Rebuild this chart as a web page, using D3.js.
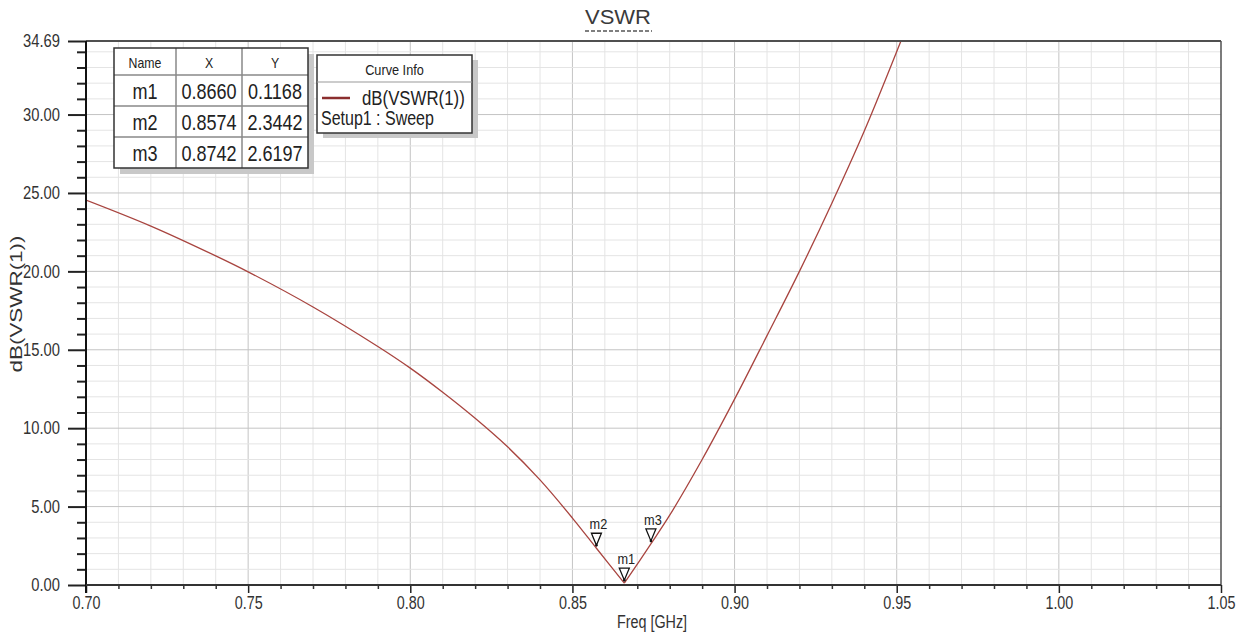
<!DOCTYPE html>
<html>
<head>
<meta charset="utf-8">
<script src="https://cdn.jsdelivr.net/npm/d3@7"></script>
<style>
  html, body { margin: 0; padding: 0; background: #fff; }
  svg { display: block; }
  text { font-family: "Liberation Sans", Arial, sans-serif; }
</style>
</head>
<body>
<svg id="chart" width="1245" height="637"></svg>
<script>
// ---- data ----
const freq = [0.70, 0.72, 0.74, 0.75, 0.77, 0.79, 0.80, 0.81, 0.82, 0.83, 0.84, 0.85, 0.8574, 0.866, 0.8742, 0.88, 0.89, 0.90, 0.91, 0.92, 0.93, 0.94, 0.9513];
const vswrDb = [24.55, 22.89, 20.99, 19.97, 17.73, 15.21, 13.83, 12.29, 10.63, 8.81, 6.70, 4.27, 2.3442, 0.1168, 2.6197, 4.45, 8.0, 11.85, 15.9, 20.0, 24.35, 28.95, 34.69];
const markerNames = ["m1", "m2", "m3"];
const markerX = [0.8660, 0.8574, 0.8742];
const markerY = [0.1168, 2.3442, 2.6197];
const xTicks = [0.70, 0.75, 0.80, 0.85, 0.90, 0.95, 1.00, 1.05];
const yTicks = [0, 5, 10, 15, 20, 25, 30, 34.69];
const title = "VSWR";
const xLabel = "Freq [GHz]";
const yLabel = "dB(VSWR(1))";
const legendTitle = "Curve Info";
const legendSeries = "dB(VSWR(1))";
const legendSetup = "Setup1 : Sweep";
const tableHeader = ["Name", "X", "Y"];

// ---- layout ----
const L = 86, R = 1221, T = 41, B = 585;
const svg = d3.select("#chart");
const x = d3.scaleLinear().domain([0.70, 1.05]).range([L, R]);
const y = d3.scaleLinear().domain([0, 34.69]).range([B, T]);
const fmt = d3.format(".2f");

// grid
const xMinor = d3.range(71, 105).map(d => d / 100);
const yMinor = d3.range(1, 35);
const grid = svg.append("g");
grid.selectAll(".vx").data(xMinor).join("line")
  .attr("x1", d => x(d)).attr("x2", d => x(d)).attr("y1", T).attr("y2", B)
  .attr("stroke", d => (Math.round(d * 100) % 5 === 0) ? "#c4c4c4" : "#e4e4e4").attr("stroke-width", 1);
grid.selectAll(".hy").data(yMinor).join("line")
  .attr("x1", L).attr("x2", R).attr("y1", d => y(d)).attr("y2", d => y(d))
  .attr("stroke", d => (d % 5 === 0) ? "#c4c4c4" : "#e4e4e4").attr("stroke-width", 1);

// curve (two smooth branches meeting at the sharp minimum)
svg.append("clipPath").attr("id", "clip").append("rect")
  .attr("x", L).attr("y", T - 1).attr("width", R - L).attr("height", B - T + 1);
const pts = freq.map((f, i) => [f, vswrDb[i]]);
const minIdx = d3.minIndex(vswrDb);
const lineGen = d3.line().x(d => x(d[0])).y(d => y(d[1])).curve(d3.curveCatmullRom.alpha(0.5));
[pts.slice(0, minIdx + 1), pts.slice(minIdx)].forEach(seg => {
  svg.append("path").datum(seg)
    .attr("clip-path", "url(#clip)")
    .attr("fill", "none").attr("stroke", "#a8443f").attr("stroke-width", 1.3)
    .attr("d", lineGen);
});

// borders
svg.append("line").attr("x1", L).attr("x2", R).attr("y1", T).attr("y2", T).attr("stroke", "#505050").attr("stroke-width", 2);
svg.append("line").attr("x1", R).attr("x2", R).attr("y1", T).attr("y2", B).attr("stroke", "#505050").attr("stroke-width", 1.5);

// y axis
const yAxisG = svg.append("g").attr("transform", `translate(${L},0)`);
yAxisG.call(d3.axisLeft(y).tickValues(yMinor.filter(d => d % 5 !== 0)).tickSize(9).tickFormat(""));
const yMaj = svg.append("g").attr("transform", `translate(${L},0)`)
  .call(d3.axisLeft(y).tickValues(yTicks).tickSize(18).tickPadding(8).tickFormat(fmt));
svg.selectAll(".domain").remove();
yAxisG.selectAll("line").attr("stroke", "#222").attr("stroke-width", 2);
yMaj.selectAll("line").attr("stroke", "#222").attr("stroke-width", 2);
yMaj.selectAll("text").attr("font-size", 18).attr("fill", "#333");

// x axis
const xMinG = svg.append("g").attr("transform", `translate(0,${B})`)
  .call(d3.axisBottom(x).tickValues(xMinor.filter(d => Math.round(d * 100) % 5 !== 0)).tickSize(4).tickFormat(""));
const xMaj = svg.append("g").attr("transform", `translate(0,${B})`)
  .call(d3.axisBottom(x).tickValues(xTicks).tickSize(8).tickPadding(4).tickFormat(fmt));
xMinG.select(".domain").remove(); xMaj.select(".domain").remove();
xMinG.selectAll("line").attr("stroke", "#333").attr("stroke-width", 1.5);
xMaj.selectAll("line").attr("stroke", "#222").attr("stroke-width", 1.5);
xMaj.selectAll("text").attr("font-size", 17.5).attr("fill", "#333");

svg.append("line").attr("x1", L).attr("x2", L).attr("y1", T).attr("y2", B + 8).attr("stroke", "#111").attr("stroke-width", 2);
svg.append("line").attr("x1", L).attr("x2", R).attr("y1", B).attr("y2", B).attr("stroke", "#333").attr("stroke-width", 2);

// labels
svg.append("text").attr("x", 618).attr("y", 24).attr("text-anchor", "middle")
  .attr("font-size", 20).attr("fill", "#3a3a3a").attr("textLength", 66).attr("lengthAdjust", "spacingAndGlyphs")
  .text(title);
svg.append("line").attr("x1", 585).attr("x2", 652).attr("y1", 31).attr("y2", 31)
  .attr("stroke", "#555").attr("stroke-width", 1.5).attr("stroke-dasharray", "4,2");
svg.append("text").attr("x", 652).attr("y", 628).attr("text-anchor", "middle")
  .attr("font-size", 17.5).attr("fill", "#333").text(xLabel);
svg.append("text").attr("transform", "translate(22,304) rotate(-90)").attr("text-anchor", "middle")
  .attr("font-size", 16).attr("fill", "#333").attr("textLength", 137).attr("lengthAdjust", "spacingAndGlyphs").text(yLabel);

// markers
const mg = svg.append("g");
markerNames.forEach((n, i) => {
  const px = x(markerX[i]), py = y(markerY[i]);
  mg.append("path").attr("d", `M${px - 5},${py - 15} L${px + 5},${py - 15} L${px},${py - 3} Z`)
    .attr("fill", "#fff").attr("stroke", "#111").attr("stroke-width", 1.3);
  mg.append("circle").attr("cx", px).attr("cy", py - 3).attr("r", 1.3).attr("fill", "#111");
  mg.append("text").attr("x", px + 2).attr("y", py - 19).attr("text-anchor", "middle")
    .attr("font-size", 15.5).attr("fill", "#222").text(n);
});

// marker table
const tx = 114, ty = 48, colW = [62, 66, 66], rowH = [27, 31, 31, 31];
const tW = d3.sum(colW), tH = d3.sum(rowH);
const tg = svg.append("g");
tg.append("rect").attr("x", tx + 6).attr("y", ty + 6).attr("width", tW).attr("height", tH).attr("fill", "#c8c8c8");
tg.append("rect").attr("x", tx).attr("y", ty).attr("width", tW).attr("height", tH).attr("fill", "#fff");
let cx = tx;
const colX = colW.map(w => { const s = cx; cx += w; return s; });
let cy = ty;
const rowY = rowH.map(h => { const s = cy; cy += h; return s; });
colX.slice(1).forEach(c => tg.append("line").attr("x1", c).attr("x2", c).attr("y1", ty).attr("y2", ty + tH).attr("stroke", "#888").attr("stroke-width", 1.5));
rowY.slice(1).forEach(r => tg.append("line").attr("x1", tx).attr("x2", tx + tW).attr("y1", r).attr("y2", r).attr("stroke", "#888").attr("stroke-width", 1.5));
tg.append("rect").attr("x", tx).attr("y", ty).attr("width", tW).attr("height", tH).attr("fill", "none").attr("stroke", "#333").attr("stroke-width", 1.5);
tableHeader.forEach((h, j) => tg.append("text").attr("x", colX[j] + colW[j] / 2).attr("y", ty + 20)
  .attr("text-anchor", "middle").attr("font-size", 15).attr("fill", "#222").text(h));
const f4 = d3.format(".4f");
markerNames.forEach((n, i) => {
  const cells = [n, f4(markerX[i]), f4(markerY[i])];
  cells.forEach((c, j) => tg.append("text").attr("x", colX[j] + colW[j] / 2).attr("y", rowY[i + 1] + 24)
    .attr("text-anchor", "middle").attr("font-size", 22).attr("fill", "#222").text(c));
});

// legend
const lx = 317, ly = 55, lw = 155, lh = 78;
const lg = svg.append("g");
lg.append("rect").attr("x", lx + 6).attr("y", ly + 5).attr("width", lw).attr("height", lh).attr("fill", "#c8c8c8");
lg.append("rect").attr("x", lx).attr("y", ly).attr("width", lw).attr("height", lh).attr("fill", "#fff").attr("stroke", "#333").attr("stroke-width", 1.5);
lg.append("line").attr("x1", lx).attr("x2", lx + lw).attr("y1", ly + 27).attr("y2", ly + 27).attr("stroke", "#999").attr("stroke-width", 1);
lg.append("text").attr("x", lx + lw / 2).attr("y", ly + 20).attr("text-anchor", "middle").attr("font-size", 15.5).attr("fill", "#222").text(legendTitle);
lg.append("line").attr("x1", lx + 5).attr("x2", lx + 33).attr("y1", ly + 43).attr("y2", ly + 43).attr("stroke", "#8b2e2e").attr("stroke-width", 2.5);
lg.append("text").attr("x", lx + 45).attr("y", ly + 50).attr("font-size", 20.5).attr("fill", "#222").text(legendSeries);
lg.append("text").attr("x", lx + 4).attr("y", ly + 70).attr("font-size", 19.5).attr("fill", "#222").text(legendSetup);

// condense all text horizontally (narrow-font look of the original)
svg.selectAll("text").each(function () {
  if (this.hasAttribute("textLength")) return;
  const len = this.getComputedTextLength();
  if (len > 0) d3.select(this).attr("textLength", len * 0.82).attr("lengthAdjust", "spacingAndGlyphs");
});
</script>
</body>
</html>
